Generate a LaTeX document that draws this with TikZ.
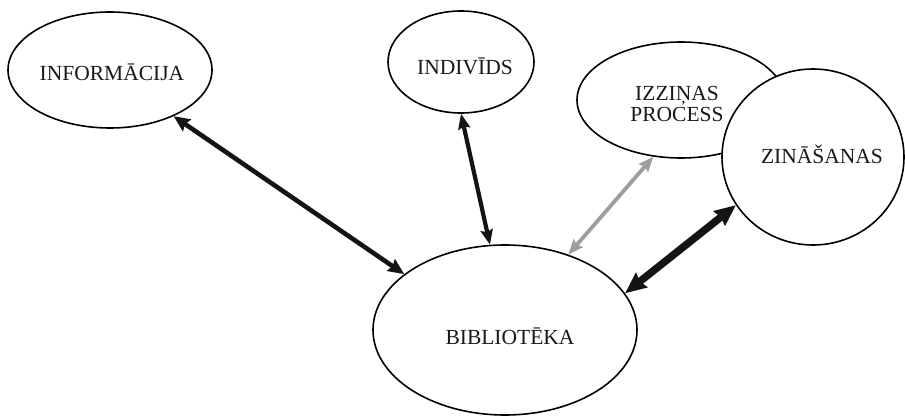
\documentclass[tikz,border=0pt]{standalone}
\usepackage{fontspec}
\setmainfont{Liberation Serif}
\usetikzlibrary{shapes.geometric,arrows.meta}
\begin{document}
\begin{tikzpicture}[x=1pt,y=-1pt,
  oval/.style={draw=black,line width=1.6pt,ellipse,inner sep=0pt,fill=white},
  lbl/.style={font=\fontsize{21.5}{20.5}\selectfont,align=center,inner sep=0pt,text=black!90},
  link/.style={line width=#1,draw=black!92},
  tipA/.style={{Stealth[length=16pt,width=14pt,inset=2pt]}-{Stealth[length=16pt,width=14pt,inset=2pt]}},
  tipB/.style={{Stealth[length=15pt,width=12pt,inset=2pt]}-{Stealth[length=15pt,width=12pt,inset=2pt]}},
  tipC/.style={{Stealth[length=15pt,width=12pt,inset=2pt]}-{Stealth[length=15pt,width=12pt,inset=2pt]}},
  tipD/.style={{Stealth[length=21pt,width=18pt,inset=2pt]}-{Stealth[length=21pt,width=18pt,inset=2pt]}}
]
\useasboundingbox[fill=white] (0,0) rectangle (905,417);

% ovals
\node[oval,minimum width=204pt,minimum height=116pt] (info) at (110,70) {};
\node[oval,minimum width=146pt,minimum height=102pt] (indiv) at (461,62) {};
\node[oval,minimum width=208pt,minimum height=116pt] (izz) at (681,100) {};
\node[oval,minimum width=182pt,minimum height=176pt] (zin) at (813,157) {};
\node[oval,minimum width=264pt,minimum height=170pt] (bibl) at (505,330) {};

% labels
\node[lbl] (tinfo) at (112,72) {INFORMĀCIJA};
\node[lbl] (tindiv) at (465,66) {INDIVĪDS};
\node[lbl] (tizz) at (677,104) {IZZIŅAS\\PROCESS};
\node[lbl] (tzin) at (822,154) {ZINĀŠANAS};
\node[lbl] (tbibl) at (510,336) {BIBLIOTĒKA};

% connectors
\draw[link=4.6pt,tipA] (info.-36) -- (bibl.151);
\draw[link=4.2pt,tipB] (indiv.-90) -- (bibl.100);
\draw[link=3.8pt,draw=black!38,tipC] (izz.-116) -- (bibl.50);
\draw[link=7.5pt,tipD] (zin.212) -- (bibl.17);
\end{tikzpicture}
\end{document}
